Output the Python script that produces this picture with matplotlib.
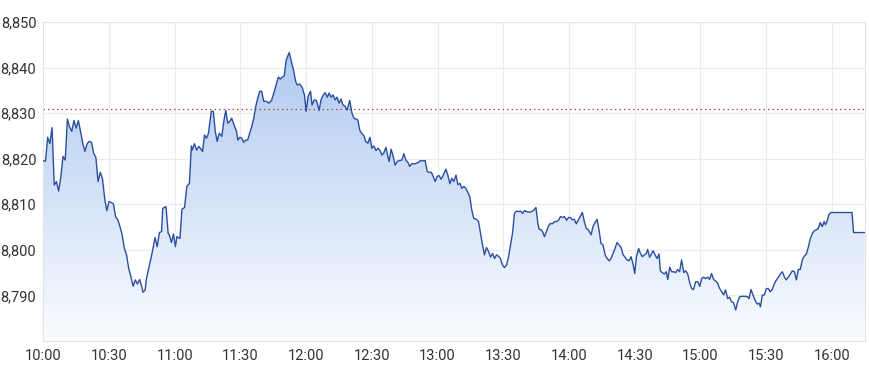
import numpy as np
import matplotlib
matplotlib.use("Agg")
import matplotlib.pyplot as plt
from matplotlib.colors import LinearSegmentedColormap

# minutes after 10:00 and index level
minutes = [0, 1, 2, 3, 4, 5, 6, 7, 8, 9, 10, 11, 12, 13, 14, 15, 16, 17, 18, 19, 20,
           21, 22, 23, 24, 25, 26, 27, 28, 29, 30, 31, 32, 33, 34, 35, 36, 37, 38, 39,
           40, 41, 42, 43, 44, 45, 45.5, 46.5, 47, 48, 49, 50, 51, 52, 53, 54, 54.5, 56,
           57, 57.5, 58.5, 59.4, 60.3, 61, 62.4, 63.3, 64.5, 65.5, 66.7, 67.6, 68, 69, 70,
           71, 72, 72.7, 73.6, 74.5, 75.4, 76.7, 77.6, 78.5, 79.4, 80.3, 81.5, 82.4, 83.3,
           84.2, 85.2, 86, 87.3, 88.2, 88.8, 89.7, 90.6, 91.5, 92.4, 93.3, 94.2, 95.2, 96.1,
           97, 97.9, 98.8, 99.7, 100.6, 101.8, 103, 104.2, 105.5, 106.4, 107.3, 108.2,
           109.1, 110, 110.9, 112.3, 113.2, 114.2, 115.2,
           115.9, 117.1, 118.3, 119.2, 120, 120.9, 122, 122.7, 123.7, 124.7, 125.9, 126.8,
           127.8, 128.7, 129.6, 130.5, 131.4, 132.3, 133.2, 134.1, 135, 135.9, 136.8, 137.8,
           138.7, 139.9, 140.9, 141.8, 142.7, 143.6, 144.5, 145.5, 146.4, 147.2, 148.2,
           149.1, 150, 150.9, 151.9, 152.8, 153.6, 154.6, 155.5, 156.4, 157.3, 157.9, 158.8,
           159.7, 160.6, 161.6, 162.5, 163.7, 164.6, 165.5, 166.4, 167.3, 168.2, 169.5,
           170.4, 171.3, 172.2, 173.1, 174.3, 175.3, 176.2, 177.2, 178, 178.9, 179.8, 180.7,
           181.6, 182.6, 183.8, 184.7, 185.6, 186.5, 187.4, 188.4, 189.3, 190.2, 191.1, 192,
           192.9, 193.8, 194.7, 195.6, 196.5, 197.8, 198.7, 199.6, 200.5, 201.4, 202.3,
           203.3, 204.2, 205.1, 206, 206.9, 207.8, 208.7, 209.6, 210.5, 211.5, 212.4, 213.3,
           214.2, 215.1, 216, 217, 217.9, 218.8, 219.7, 220.6, 221.5, 222.4, 223.7, 224.9,
           225.8, 226.4, 227.3, 227.9, 228.8, 229.7, 230.6, 231.5, 232.4, 233.4, 234.3,
           235.2, 236.1, 237, 237.9, 238.9, 239.8,
           240.6, 241.5, 242.4, 243.3, 244.2, 245.2, 246.1, 247, 247.9, 248.8, 250.1, 251,
           251.9, 252.8, 253.7, 254.6, 255.5, 256.5, 257.4, 258.3, 259.2, 260.1, 261, 261.9,
           262.8, 263.8, 264.7, 265.6, 266.5, 267.4, 268.3, 269.2, 270, 270.8, 271.8, 272.6,
           273.5, 274.4, 275.3, 275.9, 276.8, 277.8, 278.4, 279.3, 280.2, 281.1, 281.7,
           282.6, 283.5, 284.4, 285.1, 286, 286.9, 287.8, 288.7, 289.6, 290.5, 291.4, 292.4,
           293.3, 294.2, 295.1, 296, 296.9, 297.8, 298.8, 299.7, 300.6, 301.5, 302.4, 303.3,
           304.2, 305.1, 306, 306.9, 307.9, 308.8, 309.7, 310.6, 311.5, 312.4, 313.3, 314.2,
           315.1, 316.1, 317, 317.9, 318.8, 319.7, 320.6, 321.5, 322.2, 323.1, 324, 324.9,
           325.9, 326.8, 327.4, 328.3, 329.2, 330.1, 331, 331.9, 332.8, 333.7, 334.7, 335.6,
           336.5, 337.4, 338.3, 339.2, 340.1, 341.1, 342, 342.9, 343.8, 344.7, 345.6, 346.5,
           347.4, 348.4, 349.3, 350.2, 351.1, 352, 352.9, 353.8, 354.7, 355.6, 356.5, 357.1,
           358, 358.6, 359.6, 369.2, 369.9, 375]

prices = [8819.5, 8819.5, 8824.7, 8823.3, 8826.8, 8814.2, 8815, 8812.9, 8816, 8820.5,
          8819.7, 8828.7, 8827, 8826, 8828.4, 8826.7, 8828.4, 8826, 8823.4, 8821.6, 8823.3,
          8823.8, 8823.6, 8821.2, 8820.3, 8815, 8817, 8815.7, 8811.3, 8808.6, 8810.6,
          8810.4, 8810.1, 8807.3, 8806.6, 8805.1, 8803.3, 8800.3, 8798.9, 8795.9, 8794.1,
          8792, 8793.4, 8792.5, 8793.5, 8791.8, 8790.7, 8791.2, 8793.4, 8795.7, 8797.8,
          8800.1, 8802.7, 8800.7, 8803.8, 8804, 8809.1, 8809.5, 8803.6, 8803.3, 8801.6,
          8803.5, 8800.7, 8802.9, 8802.5, 8808.9, 8809.3, 8813.9, 8814.6, 8822.8, 8821.9,
          8823.3, 8821.9, 8822.7, 8822.1, 8821.6, 8825.2, 8824.5, 8825.6, 8830.4, 8830.4,
          8826, 8823.8, 8825.6, 8824.9, 8828.2, 8830.6, 8827.8, 8828.2, 8828.9, 8827.1,
          8826, 8824.1, 8824.7, 8824.5, 8823.6, 8824.1, 8824.1, 8825.6, 8827.1, 8828.9,
          8831.5, 8833.3, 8834.8, 8834.8, 8832.6, 8832.6, 8832.2, 8832.8, 8834.8, 8836.4,
          8837.9, 8837.5, 8837.9, 8838.2, 8841.7, 8843.3, 8841.4, 8839.5, 8837,
          8836.2, 8836.4, 8835.5, 8834, 8830.4, 8833.7, 8834.8, 8831.8, 8832.9, 8832.8,
          8830.6, 8832.9, 8834, 8834.5, 8833.5, 8834.4, 8833.5, 8834, 8832.9, 8833.5, 8832.2,
          8833.1, 8831.8, 8831.5, 8830.7, 8832.8, 8830, 8828.9, 8828.7, 8828.5, 8826.2,
          8825.5, 8825, 8823.8, 8823.4, 8824.7, 8822.3, 8822.8, 8821.8, 8822.3, 8821.9,
          8820.8, 8821.3, 8822.5, 8820.5, 8819.4, 8822.1, 8820.6, 8818.6, 8819.4, 8819.6,
          8819.7, 8821.1, 8819.7, 8819.2, 8818.3, 8818.9, 8818.9, 8819, 8819.2, 8819.6,
          8819.5, 8819.6, 8817.2, 8817, 8817, 8816.1, 8815, 8816.1, 8816.3, 8815.5, 8816.4,
          8817.7, 8816.4, 8814.5, 8815.7, 8815, 8816.4, 8814.3, 8814.6, 8813.5, 8813.9,
          8813.5, 8812.6, 8811.7, 8808.8, 8806.9, 8806.7, 8806.2, 8803.6, 8801.1, 8798.9,
          8800.5, 8799.6, 8798.4, 8799.2, 8798.1, 8798.9, 8798.6, 8798.1, 8796.7, 8796.1,
          8796.7, 8798.5, 8801.1, 8803.6, 8808, 8808.5, 8808.4, 8808.5, 8808, 8808.6,
          8808.4, 8808.3, 8808.3, 8808.6, 8809.3, 8805.8, 8804.5, 8804.4, 8804, 8802.9,
          8804, 8805.2, 8805.8, 8805.7, 8806.2, 8806.2, 8806.5, 8807.3, 8807.1, 8807.3,
          8806.5, 8807.1,
          8807.1, 8806.6, 8806.7, 8805.7, 8806.5, 8807.4, 8808.2, 8806.2, 8804.7, 8804.4,
          8803.3, 8805.2, 8806, 8806.7, 8804.4, 8801.4, 8801.1, 8798.9, 8798.1, 8797.6,
          8798.1, 8799.2, 8800.3, 8801.6, 8801.1, 8800.5, 8798.9, 8798.4, 8797.8, 8797.6,
          8798.5, 8797, 8794.8, 8798.5, 8800.3, 8799.2, 8798.5, 8798.9, 8799.2, 8800.1,
          8798.4, 8799.2, 8799.8, 8798.9, 8798.1, 8799.1, 8795.4, 8795, 8794.7, 8795.2,
          8793.5, 8796.2, 8795.2, 8795.2, 8795, 8795.7, 8795.2, 8797.8, 8795, 8795.4,
          8794.7, 8792.8, 8791.5, 8791.3, 8793, 8793, 8792, 8793.7, 8794, 8793.7, 8794,
          8793.5, 8794.8, 8793.5, 8793.2, 8792.6, 8791.5, 8790.8, 8790.1, 8791.2, 8789.3,
          8789.6, 8788.6, 8788.4, 8786.8, 8788.6, 8789.7, 8789.8, 8789.8, 8789.8, 8789.7,
          8789.3, 8791.3, 8790.1, 8789, 8788.1, 8788.3, 8787.5, 8790.1, 8790.1, 8791.5,
          8791.5, 8790.8, 8791.3, 8792.5, 8793.4, 8794, 8794.7, 8795.2, 8794.1, 8793.4,
          8794, 8794.7, 8795.4, 8795.2, 8793.4, 8795.7, 8795.7, 8797.8, 8798.6, 8799.1,
          8800.7, 8802.5, 8803.6, 8804.2, 8804.4, 8804.7, 8806, 8805.1, 8806.2, 8805.5,
          8806.5, 8807.7, 8808.2, 8808.2, 8803.8, 8803.8]

prev_close = 8830.8
y_ticks = [8790, 8800, 8810, 8820, 8830, 8840, 8850]
y_tick_labels = ["8,790", "8,800", "8,810", "8,820", "8,830", "8,840", "8,850"]
x_ticks = [0, 30, 60, 90, 120, 150, 180, 210, 240, 270, 300, 330, 360]
x_tick_labels = ["10:00", "10:30", "11:00", "11:30", "12:00", "12:30", "13:00",
                 "13:30", "14:00", "14:30", "15:00", "15:30", "16:00"]
x_range = (0, 375)
y_range = (8780, 8850)

plt.rcParams['font.family'] = ['Roboto', 'DejaVu Sans']

fig = plt.figure(figsize=(8.7, 3.71), dpi=100)
ax = fig.add_axes([43.3 / 870, 1 - 341 / 371, (864.7 - 43.3) / 870, (341 - 22) / 371])

x = np.array(minutes)
y = np.array(prices)

# gradient fill under the line
poly = ax.fill_between(x, y, y_range[0], color='none', lw=0)
cmap = LinearSegmentedColormap.from_list('g', [(250/255, 252/255, 1.0), (176/255, 202/255, 240/255)])
grad = np.linspace(0, 1, 256).reshape(-1, 1)
im = ax.imshow(grad, cmap=cmap, aspect='auto', origin='lower',
               extent=[x_range[0], x_range[1], y_range[0], max(prices)], zorder=1)
paths = poly.get_paths()
im.set_clip_path(paths[0], transform=ax.transData)

ax.plot(x, y, color='#2a4f9f', lw=1.0, zorder=3, solid_joinstyle='round')
ax.axhline(prev_close, color='#b8453f', lw=0.9, ls=(0, (1.2, 2.4)), zorder=2)

ax.set_xlim(*x_range)
ax.set_ylim(*y_range)
ax.set_xticks(x_ticks)
ax.set_xticklabels(x_tick_labels)
ax.set_yticks(y_ticks)
ax.set_yticklabels(y_tick_labels)
ax.grid(True, color='#ebebeb', lw=0.8, zorder=0)
ax.set_axisbelow(True)
for s in ax.spines.values():
    s.set_color('#e2e2e2')
    s.set_linewidth(0.8)
ax.tick_params(length=0, labelsize=10.5, colors='#333333', pad=6)
ax.tick_params(axis='y', pad=5)

fig.savefig('out.png', dpi=100, facecolor='white')
